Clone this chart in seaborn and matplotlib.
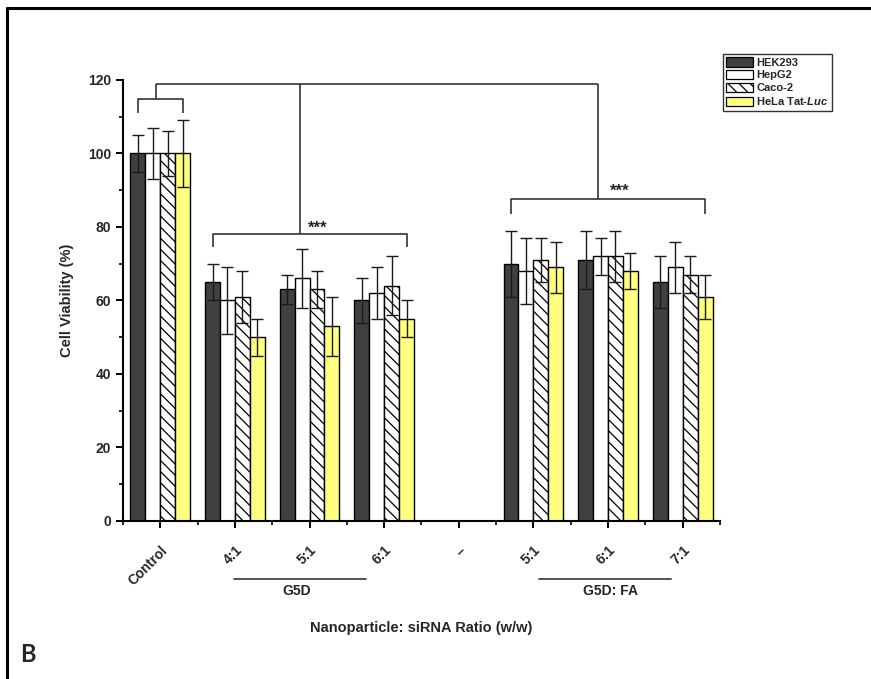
import numpy as np
import pandas as pd
import matplotlib
matplotlib.use("Agg")
import matplotlib.pyplot as plt
from matplotlib.patches import Patch
from matplotlib.lines import Line2D
import matplotlib.transforms as mtransforms
import seaborn as sns

# ---- data -------------------------------------------------------------
category_keys = ["Control", "G5D 4:1", "G5D 5:1", "G5D 6:1", "blank",
                 "FA 5:1", "FA 6:1", "FA 7:1"]
tick_labels = ["Control", "4:1", "5:1", "6:1", "--", "5:1", "6:1", "7:1"]
cell_lines = ["HEK293", "HepG2", "Caco-2", "HeLa Tat-Luc"]

hek293 = [100, 65, 63, 60, np.nan, 70, 71, 65]
hepg2 = [100, 60, 66, 62, np.nan, 68, 72, 69]
caco2 = [100, 61, 63, 64, np.nan, 71, 72, 67]
hela = [100, 50, 53, 55, np.nan, 69, 68, 61]

hek293_sd = [5, 5, 4, 6, np.nan, 9, 8, 7]
hepg2_sd = [7, 9, 8, 7, np.nan, 9, 5, 7]
caco2_sd = [6, 7, 5, 8, np.nan, 6, 7, 5]
hela_sd = [9, 5, 8, 5, np.nan, 7, 5, 6]

means = [hek293, hepg2, caco2, hela]
sds = [hek293_sd, hepg2_sd, caco2_sd, hela_sd]

rows = []
for line, vals in zip(cell_lines, means):
    for key, v in zip(category_keys, vals):
        if not np.isnan(v):
            rows.append({"ratio": key, "line": line, "viability": v})
df = pd.DataFrame(rows)

# ---- style ------------------------------------------------------------
sns.set_style("ticks")
plt.rcParams["font.family"] = ["Liberation Sans", "DejaVu Sans"]
plt.rcParams["font.weight"] = "bold"
plt.rcParams["hatch.linewidth"] = 0.9
plt.rcParams["mathtext.fontset"] = "custom"
plt.rcParams["mathtext.it"] = "Liberation Sans:italic:bold"
plt.rcParams["mathtext.rm"] = "Liberation Sans:bold"

colors = {"HEK293": "#404040", "HepG2": "#ffffff",
          "Caco-2": "#ffffff", "HeLa Tat-Luc": "#ffff80"}
hatches = {"HEK293": "", "HepG2": "", "Caco-2": "\\\\\\", "HeLa Tat-Luc": ""}

fig = plt.figure(figsize=(8.71, 6.79), dpi=100)
ax = fig.add_axes([0.1412, 0.2327, 0.6854, 0.6495])

sns.barplot(data=df, x="ratio", y="viability", hue="line",
            order=category_keys, hue_order=cell_lines, palette=colors,
            saturation=1, errorbar=None, edgecolor="black", linewidth=1.0,
            width=0.8, legend=False, ax=ax)

# hatching and error bars per cell line
bar_containers = list(ax.containers)
for i, container in enumerate(bar_containers):
    line = cell_lines[i]
    for bar in container:
        bar.set_hatch(hatches[line])
        cx = bar.get_x() + bar.get_width() / 2
        k = int(round(cx))
        ax.errorbar(cx, bar.get_height(), yerr=sds[i][k], fmt="none",
                    ecolor="#1a1a1a", elinewidth=1.0, capsize=4,
                    capthick=1.0, zorder=5)

# ---- axes -------------------------------------------------------------
ax.set_xlim(-0.5, 7.5)
ax.set_ylim(0, 120)
ax.set_yticks(np.arange(0, 121, 20))
ax.set_yticks(np.arange(10, 120, 20), minor=True)
ax.set_xticks(range(len(category_keys)))
ax.set_xticks(np.arange(-0.5, 7.6, 1.0), minor=True)
ax.set_xticklabels(tick_labels, rotation=45, ha="right",
                   rotation_mode="anchor", fontsize=10, fontweight="bold")
for lab in ax.get_yticklabels():
    lab.set_fontsize(10)
    lab.set_fontweight("bold")
ax.tick_params(axis="both", which="major", length=5, width=1.4,
               color="black", direction="out")
ax.tick_params(axis="both", which="minor", length=3, width=1.2,
               color="black", direction="out")
ax.tick_params(axis="x", which="major", pad=11)
for side in ["top", "right"]:
    ax.spines[side].set_visible(False)
for side in ["left", "bottom"]:
    ax.spines[side].set_linewidth(1.5)
    ax.spines[side].set_color("black")

ax.set_xlabel("")
ax.set_ylabel("Cell Viability (%)", fontsize=10.5, fontweight="bold",
              labelpad=10)
fig.text(0.4839, 1 - 628 / 679, "Nanoparticle: siRNA Ratio (w/w)",
         ha="center", va="center", fontsize=10.5, fontweight="bold",
         family=["Liberation Sans Narrow", "Liberation Sans"])

# ---- significance brackets ---------------------------------------------
bk = dict(color="#333333", lw=1.2, clip_on=False, solid_capstyle="butt")
ax.plot([-0.3, -0.3, 0.3, 0.3], [111, 114.8, 114.8, 111], **bk)
ax.plot([-0.06, -0.06], [114.8, 119], **bk)
ax.plot([-0.06, 5.87], [119, 119], **bk)
ax.plot([1.87, 1.87], [119, 78], **bk)
ax.plot([0.7, 0.7, 3.3, 3.3], [74.5, 78, 78, 74.5], **bk)
ax.plot([5.87, 5.87], [119, 87.5], **bk)
ax.plot([4.7, 4.7, 7.3, 7.3], [83.5, 87.5, 87.5, 83.5], **bk)
ax.text(2.11, 79.6, "***", ha="center", va="center", fontsize=12,
        fontweight="bold")
ax.text(6.16, 89.6, "***", ha="center", va="center", fontsize=12,
        fontweight="bold")

# ---- formulation group labels under the ticks --------------------------
trans = mtransforms.blended_transform_factory(ax.transData, fig.transFigure)
gy = 1 - 579 / 679
ty = 1 - 591 / 679
ax.add_line(Line2D([0.99, 2.76], [gy, gy], transform=trans, color="#444444",
                   lw=1.3, clip_on=False))
ax.add_line(Line2D([5.08, 6.85], [gy, gy], transform=trans, color="#444444",
                   lw=1.3, clip_on=False))
ax.text(1.83, ty, "G5D", transform=trans, ha="center", va="center",
        fontsize=10, fontweight="bold",
        family=["Liberation Sans Narrow", "Liberation Sans"])
ax.text(6.03, ty, "G5D: FA", transform=trans, ha="center", va="center",
        fontsize=10, fontweight="bold",
        family=["Liberation Sans Narrow", "Liberation Sans"])

# ---- legend -----------------------------------------------------------
handles = [Patch(facecolor=colors[c], edgecolor="black", hatch=hatches[c],
                 linewidth=0.9) for c in cell_lines]
labels = ["HEK293", "HepG2", "Caco-2", "HeLa Tat-$\\mathit{Luc}$"]
leg = ax.legend(handles, labels, loc="upper left",
                bbox_to_anchor=(723 / 871, 1 - 54 / 679),
                bbox_transform=fig.transFigure, borderaxespad=0,
                handlelength=2.4, handleheight=0.9,
                labelspacing=0.2, handletextpad=0.3, borderpad=0.3,
                fancybox=False, frameon=True, edgecolor="black",
                prop={"weight": "bold", "size": 8})
leg.get_frame().set_linewidth(1.0)

# ---- panel frame and letter -------------------------------------------
fig.add_artist(Line2D([7 / 871, 1.0], [1 - 8 / 679, 1 - 8 / 679],
                      transform=fig.transFigure, color="black", lw=2.2))
fig.add_artist(Line2D([7 / 871, 7 / 871], [0.0, 1 - 8 / 679],
                      transform=fig.transFigure, color="black", lw=2.2))
fig.text(20 / 871, 1 - 655 / 679, "B", ha="left", va="center",
         fontsize=17, fontweight="bold", family=["Lato", "Liberation Sans"])

fig.savefig("out.png", dpi=100)
